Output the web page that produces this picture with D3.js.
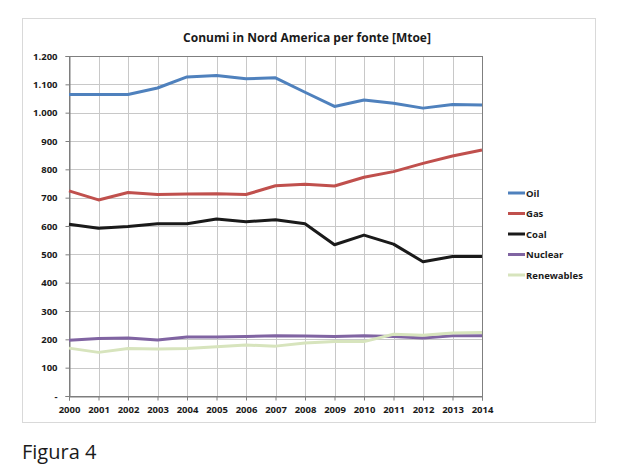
<!DOCTYPE html>
<html>
<head>
<meta charset="utf-8">
<script src="https://cdn.jsdelivr.net/npm/d3@7"></script>
<style>
  body { margin: 0; background: #fff; }
  text { font-family: 'Open Sans', sans-serif; }
</style>
</head>
<body>
<svg id="chart" width="620" height="476"></svg>
<script>
const years = [2000, 2001, 2002, 2003, 2004, 2005, 2006, 2007, 2008, 2009, 2010, 2011, 2012, 2013, 2014]
const oil = [1064, 1064, 1064, 1087, 1126, 1131, 1120, 1123, 1072, 1022, 1045, 1033, 1016, 1029, 1027]
const gas = [724, 692, 718, 711, 713, 714, 711, 742, 747, 741, 772, 792, 821, 847, 868]
const coal = [606, 592, 598, 608, 608, 625, 615, 622, 608, 534, 568, 536, 474, 492, 492]
const nuclear = [197, 203, 205, 198, 208, 208, 210, 213, 212, 210, 213, 210, 205, 213, 213]
const renewables = [169, 154, 168, 166, 168, 174, 180, 176, 187, 192, 192, 218, 214, 222, 224]
const yTicks = [0, 100, 200, 300, 400, 500, 600, 700, 800, 900, 1000, 1100, 1200]

const series = [
  { name: 'Oil', values: oil, color: '#4F81BD' },
  { name: 'Gas', values: gas, color: '#C0504D' },
  { name: 'Coal', values: coal, color: '#1a1a1a' },
  { name: 'Nuclear', values: nuclear, color: '#8064A2' },
  { name: 'Renewables', values: renewables, color: '#D7E4BD' }
]

const svg = d3.select('#chart')
const margin = { top: 56, left: 69, right: 138, bottom: 80 }
const innerWidth = 620 - margin.left - margin.right
const innerHeight = 476 - margin.top - margin.bottom

// outer frame
svg.append('rect')
  .attr('x', 22.5).attr('y', 18.5)
  .attr('width', 573).attr('height', 404)
  .attr('fill', '#fff')
  .attr('stroke', '#d9d9d9')

// title
svg.append('text')
  .attr('x', 307)
  .attr('y', 42)
  .attr('text-anchor', 'middle')
  .attr('font-weight', 'bold')
  .attr('font-size', 12)
  .attr('fill', '#1a1a1a')
  .text('Conumi in Nord America per fonte [Mtoe]')

const g = svg.append('g')
  .attr('transform', `translate(${margin.left},${margin.top})`)

const x = d3.scalePoint()
  .domain(years)
  .range([0, innerWidth])

const y = d3.scaleLinear()
  .domain([0, 1200])
  .range([innerHeight, 0])

// grid
g.append('g')
  .selectAll('line')
  .data(yTicks)
  .join('line')
  .attr('x1', 0).attr('x2', innerWidth)
  .attr('y1', d => Math.round(y(d)) + 0.5)
  .attr('y2', d => Math.round(y(d)) + 0.5)
  .attr('stroke', '#c8c8c8')

g.append('g')
  .selectAll('line')
  .data(years)
  .join('line')
  .attr('x1', d => Math.round(x(d)) + 0.5)
  .attr('x2', d => Math.round(x(d)) + 0.5)
  .attr('y1', 0).attr('y2', innerHeight)
  .attr('stroke', '#c8c8c8')

// plot border
g.append('rect')
  .attr('x', 0.5).attr('y', 0.5)
  .attr('width', innerWidth).attr('height', innerHeight)
  .attr('fill', 'none')
  .attr('stroke', '#7f7f7f')

// axes
const fmt = d => d === 0 ? '-' : d3.format(',')(d).replace(',', '.')

const yAxis = g.append('g')
  .attr('transform', 'translate(0.5,0)')
  .call(d3.axisLeft(y).tickValues(yTicks).tickFormat(fmt).tickSize(4).tickPadding(8))
const xAxis = g.append('g')
  .attr('transform', `translate(0,${innerHeight + 0.5})`)
  .call(d3.axisBottom(x).tickSize(4).tickPadding(6))

;[yAxis, xAxis].forEach(a => {
  a.select('.domain').attr('stroke', '#7f7f7f')
  a.selectAll('.tick line').attr('stroke', '#7f7f7f')
  a.selectAll('text')
    .attr('font-family', "'Open Sans', sans-serif")
    .attr('font-weight', 'bold')
    .attr('font-size', 9.5)
    .attr('fill', '#1a1a1a')
})

// lines
const line = d3.line()
  .x((d, i) => x(years[i]))
  .y(d => y(d))

g.selectAll('.series')
  .data(series)
  .join('path')
  .attr('class', 'series')
  .attr('fill', 'none')
  .attr('stroke', d => d.color)
  .attr('stroke-width', 3)
  .attr('stroke-linejoin', 'round')
  .attr('d', d => line(d.values))

// legend
const legend = svg.append('g')
  .attr('transform', 'translate(508,193)')

const item = legend.selectAll('g')
  .data(series)
  .join('g')
  .attr('transform', (d, i) => `translate(0,${i * 20.5})`)

item.append('line')
  .attr('x1', 0).attr('x2', 17)
  .attr('stroke', d => d.color)
  .attr('stroke-width', 3)

item.append('text')
  .attr('x', 18)
  .attr('y', 3.5)
  .attr('font-weight', 'bold')
  .attr('font-size', 9.5)
  .attr('fill', '#1a1a1a')
  .text(d => d.name)

// caption
svg.append('text')
  .attr('x', 22)
  .attr('y', 459)
  .attr('font-size', 20)
  .attr('fill', '#1a1a1a')
  .text('Figura 4')
</script>
</body>
</html>
